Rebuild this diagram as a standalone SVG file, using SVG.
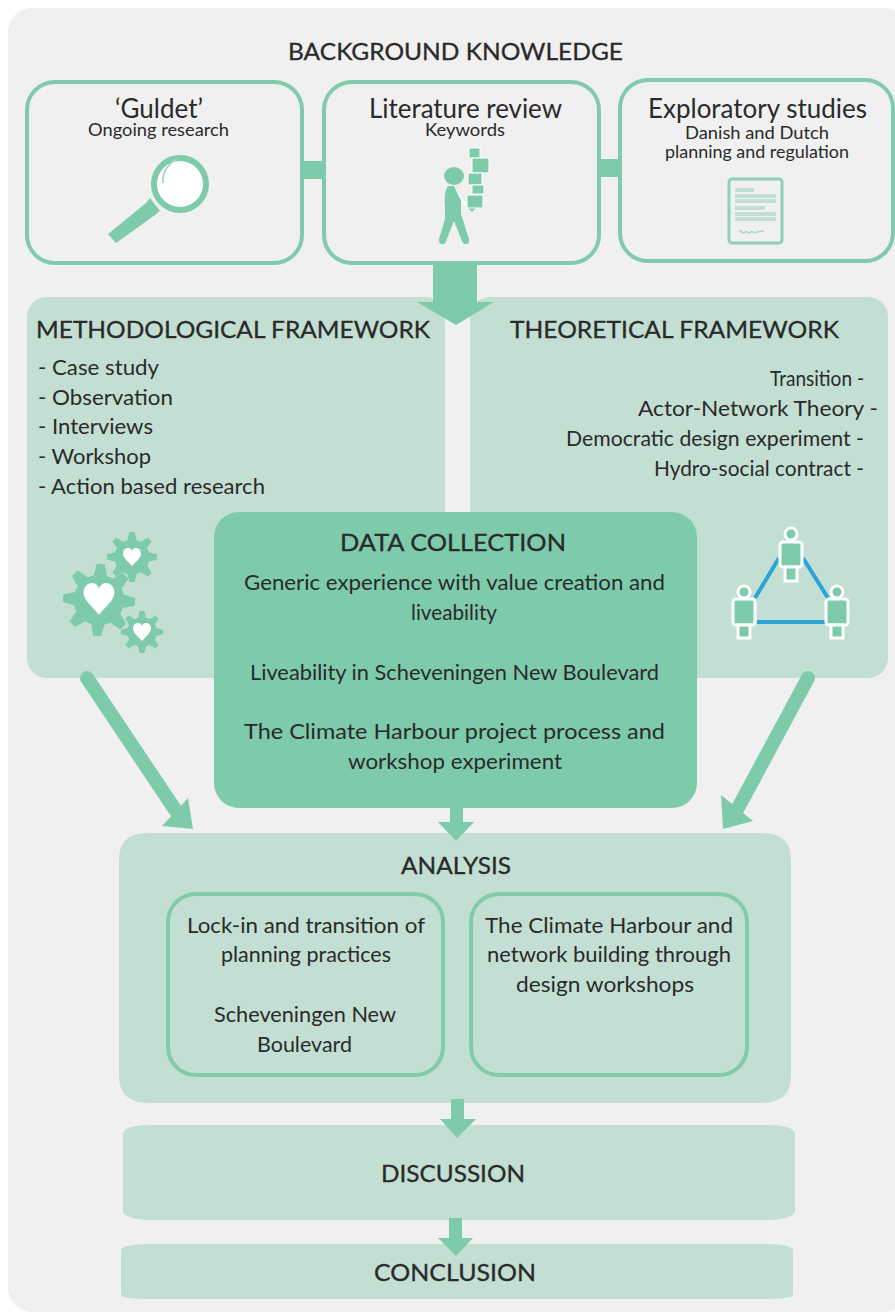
<svg xmlns="http://www.w3.org/2000/svg" width="895" height="1313" viewBox="0 0 895 1313">
<style>
text{font-family:"Lato","Open Sans","Liberation Sans",sans-serif;fill:#2a2a2a;font-size:22px}
.h{font-size:23px;stroke:#2a2a2a;stroke-width:.3px}
.t{font-size:26px}
.s{font-size:18px}
.box{fill:none;stroke:#80cbae;stroke-width:4px}
.panel{fill:#c3dfd3}
.a{fill:#7ecbac}
.w{fill:#fff}
.bar{fill:#c3dfd3}
.pp{fill:#7ecbac;stroke:#fff;stroke-width:3px}
.nl{stroke:#2aa5d5;stroke-width:4px;fill:none}
.bk{fill:#7ecbac;stroke:#fff;stroke-width:1px}
</style>
<defs>
<path id="heart" d="M0 1C-.3.6-1 .1-1-.4C-1-.8-.7-1-.45-1C-.2-1 0-.8 0-.6C0-.8.2-1 .45-1C.7-1 1-.8 1-.4C1 .1.3.6 0 1Z"/>
<path id="tooth" d="M-.19 -.66L-.11 -1H.11L.19 -.66Z"/>
<g id="gear">
<circle r=".7"/>
<use href="#tooth"/>
<use href="#tooth" transform="rotate(45)"/>
<use href="#tooth" transform="rotate(90)"/>
<use href="#tooth" transform="rotate(135)"/>
<use href="#tooth" transform="rotate(180)"/>
<use href="#tooth" transform="rotate(225)"/>
<use href="#tooth" transform="rotate(270)"/>
<use href="#tooth" transform="rotate(315)"/>
</g>
</defs>
<rect width="895" height="1313" fill="#fff"/>
<rect x="8" y="8" width="900" height="1304" rx="24" fill="#f0f0f0"/>

<g id="connectors">
<rect class="a" x="302" y="161" width="21" height="18"/>
<rect class="a" x="599" y="159" width="21" height="18"/>
</g>

<text class="h" x="288" y="60" textLength="335" lengthAdjust="spacingAndGlyphs">BACKGROUND KNOWLEDGE</text>

<g id="guldet">
<rect class="box" x="27" y="82" width="275" height="181" rx="28"/>
<text class="t" x="115" y="118" textLength="88" lengthAdjust="spacingAndGlyphs">‘Guldet’</text>
<text class="s" x="88" y="136" textLength="141" lengthAdjust="spacingAndGlyphs">Ongoing research</text>
<path class="a" d="M150 198L160 211L155 215L116 243L108 234L146 203Z"/>
<circle cx="180" cy="184" r="26" fill="#fff" stroke="#7ecbac" stroke-width="6"/>
<path d="M163 183C162 172 169 162 178 159" fill="none" stroke="#9fd6c0" stroke-width="1.6"/>
</g>

<g id="literature">
<rect class="box" x="324" y="82" width="275" height="181" rx="28"/>
<text class="t" x="369" y="118" textLength="193" lengthAdjust="spacingAndGlyphs">Literature review</text>
<text class="s" x="425" y="136" textLength="80" lengthAdjust="spacingAndGlyphs">Keywords</text>
<ellipse class="a" cx="454" cy="176" rx="10" ry="9"/>
<path class="a" d="M448 186C445 190 444 198 445 206L445 219L439 239C438 245 445 246 446 241L454 221L462 241C464 246 470 245 469 239L461 214L461 198L456 186Z"/>
<path d="M455 186L460 197L468 208" fill="none" stroke="#fff" stroke-width="1.500"/>
<path class="a" d="M468 208L476 208L472 212Z"/>
<rect class="bk" x="469" y="148" width="11" height="10"/>
<rect class="bk" x="472" y="158" width="17" height="15"/>
<rect class="bk" x="468" y="173" width="14" height="12"/>
<rect class="bk" x="472" y="185" width="12" height="9"/>
<rect class="bk" x="467" y="195" width="16" height="13"/>
</g>

<g id="exploratory">
<rect class="box" x="620" y="80" width="273" height="181" rx="28"/>
<text class="t" x="648" y="118" textLength="219" lengthAdjust="spacingAndGlyphs">Exploratory studies</text>
<text class="s" x="685" y="139" textLength="144" lengthAdjust="spacingAndGlyphs">Danish and Dutch</text>
<text class="s" x="665" y="158" textLength="184" lengthAdjust="spacingAndGlyphs">planning and regulation</text>
<rect x="729" y="179" width="53" height="64" rx="3" fill="none" stroke="#8fd0b8" stroke-width="3"/>
<rect class="bar" x="735" y="188" width="19" height="4"/>
<rect class="bar" x="735" y="194" width="41" height="4"/>
<rect class="bar" x="735" y="199" width="41" height="4"/>
<rect class="bar" x="735" y="206" width="30" height="4"/>
<rect class="bar" x="735" y="212" width="41" height="4"/>
<rect class="bar" x="735" y="217" width="41" height="4"/>
<path d="M739 231C741 229 742 235 745 232C747 230 748 235 751 232C753 230 754 235 757 232C759 231 761 232 764 231" fill="none" stroke="#a9d8c6" stroke-width="1.500"/>
</g>

<g id="methodological">
<rect class="panel" x="27" y="297" width="418" height="381" rx="20"/>
<text class="h" style="font-size:24px" x="36" y="338" textLength="394" lengthAdjust="spacingAndGlyphs">METHODOLOGICAL FRAMEWORK</text>
<text x="38" y="375" textLength="121" lengthAdjust="spacingAndGlyphs">- Case study</text>
<text x="38" y="405" textLength="135" lengthAdjust="spacingAndGlyphs">- Observation</text>
<text x="38" y="434" textLength="115" lengthAdjust="spacingAndGlyphs">- Interviews</text>
<text x="38" y="464" textLength="113" lengthAdjust="spacingAndGlyphs">- Workshop</text>
<text x="38" y="494" textLength="227" lengthAdjust="spacingAndGlyphs">- Action based research</text>
<g class="a">
<use href="#gear" transform="translate(99 600) rotate(3) scale(36)"/>
<use href="#gear" transform="translate(132 557) scale(25)"/>
<use href="#gear" transform="translate(142 632) scale(21)"/>
</g>
<use href="#heart" class="w" transform="translate(99 599) scale(15.500 16)"/>
<use href="#heart" class="w" transform="translate(132 557) scale(9 9)"/>
<use href="#heart" class="w" transform="translate(142 632) scale(9 9)"/>
</g>

<g id="theoretical">
<rect class="panel" x="470" y="297" width="418" height="381" rx="20"/>
<text class="h" style="font-size:24px" x="510" y="338" textLength="329" lengthAdjust="spacingAndGlyphs">THEORETICAL FRAMEWORK</text>
<text x="770" y="386" textLength="94" lengthAdjust="spacingAndGlyphs">Transition -</text>
<text x="638" y="416" textLength="240" lengthAdjust="spacingAndGlyphs">Actor-Network Theory -</text>
<text x="566" y="446" textLength="298" lengthAdjust="spacingAndGlyphs">Democratic design experiment -</text>
<text x="654" y="476" textLength="210" lengthAdjust="spacingAndGlyphs">Hydro-social contract -</text>
<path class="nl" d="M779 558L755 598M803 558L828 598M757 622H826"/>
<circle class="pp" cx="791" cy="534" r="6"/><rect class="pp" x="780" y="542" width="22" height="25" rx="3"/><rect class="pp" x="785" y="567" width="12" height="14"/>
<circle class="pp" cx="744" cy="592" r="6"/><rect class="pp" x="733" y="599" width="22" height="26" rx="3"/><rect class="pp" x="738" y="625" width="12" height="13"/>
<circle class="pp" cx="837" cy="592" r="6"/><rect class="pp" x="826" y="599" width="22" height="26" rx="3"/><rect class="pp" x="831" y="625" width="12" height="13"/>
</g>

<g id="arrows">
<path class="a" d="M433 263H477V302H494L456 325L417 302H433Z"/>
<path d="M87 678L176 811" fill="none" stroke="#7ecbac" stroke-width="14" stroke-linecap="round"/>
<path class="a" d="M193 829L162 826L188 798Z"/>
<path d="M808 678L738 808" fill="none" stroke="#7ecbac" stroke-width="14" stroke-linecap="round"/>
<path class="a" d="M723 829L753 821L721 795Z"/>
</g>

<g id="data-collection">
<rect class="a" x="214" y="512" width="483" height="296" rx="25"/>
<text class="h" x="340" y="551" textLength="226" lengthAdjust="spacingAndGlyphs">DATA COLLECTION</text>
<text x="244" y="590" textLength="421" lengthAdjust="spacingAndGlyphs">Generic experience with value creation and</text>
<text x="411" y="620" textLength="86" lengthAdjust="spacingAndGlyphs">liveability</text>
<text x="250" y="680" textLength="409" lengthAdjust="spacingAndGlyphs">Liveability in Scheveningen New Boulevard</text>
<text x="244" y="739" textLength="421" lengthAdjust="spacingAndGlyphs">The Climate Harbour project process and</text>
<text x="348" y="769" textLength="214" lengthAdjust="spacingAndGlyphs">workshop experiment</text>
</g>

<g id="analysis">
<path class="panel" d="M119 860C119 840 130 833 150 833H760C780 833 791 840 791 860V1076C791 1095 780 1103 760 1103H150C130 1103 119 1095 119 1076Z"/>
<text class="h" x="401" y="874" textLength="110" lengthAdjust="spacingAndGlyphs">ANALYSIS</text>
<rect class="box" x="168" y="894" width="275" height="181" rx="28"/>
<rect class="box" x="471" y="894" width="276" height="181" rx="28"/>
<text x="187" y="933" textLength="238" lengthAdjust="spacingAndGlyphs">Lock-in and transition of</text>
<text x="221" y="962" textLength="170" lengthAdjust="spacingAndGlyphs">planning practices</text>
<text x="214" y="1022" textLength="182" lengthAdjust="spacingAndGlyphs">Scheveningen New</text>
<text x="257" y="1052" textLength="95" lengthAdjust="spacingAndGlyphs">Boulevard</text>
<text x="485" y="933" textLength="248" lengthAdjust="spacingAndGlyphs">The Climate Harbour and</text>
<text x="487" y="962" textLength="244" lengthAdjust="spacingAndGlyphs">network building through</text>
<text x="516" y="992" textLength="178" lengthAdjust="spacingAndGlyphs">design workshops</text>
</g>

<g id="discussion">
<path class="panel" d="M123 1134C123 1128 135 1125 150 1125H768C783 1125 795 1128 795 1134V1211C795 1216 783 1220 768 1220H150C135 1220 123 1216 123 1211Z"/>
<text class="h" x="381" y="1182" textLength="144" lengthAdjust="spacingAndGlyphs">DISCUSSION</text>
</g>

<g id="conclusion">
<path class="panel" d="M121 1250C121 1246 135 1244 150 1244H764C780 1244 793 1246 793 1250V1295C793 1298 780 1299 764 1299H150C135 1299 121 1298 121 1295Z"/>
<text class="h" x="374" y="1281" textLength="162" lengthAdjust="spacingAndGlyphs">CONCLUSION</text>
</g>

<g id="small-arrows">
<path class="a" d="M450 808H463V822H474L456 841L438 822H450Z"/>
<path class="a" d="M451 1099H464V1119H476L457 1138L440 1119H451Z"/>
<path class="a" d="M449 1218H462V1238H473L456 1256L438 1238H449Z"/>
</g>
</svg>
